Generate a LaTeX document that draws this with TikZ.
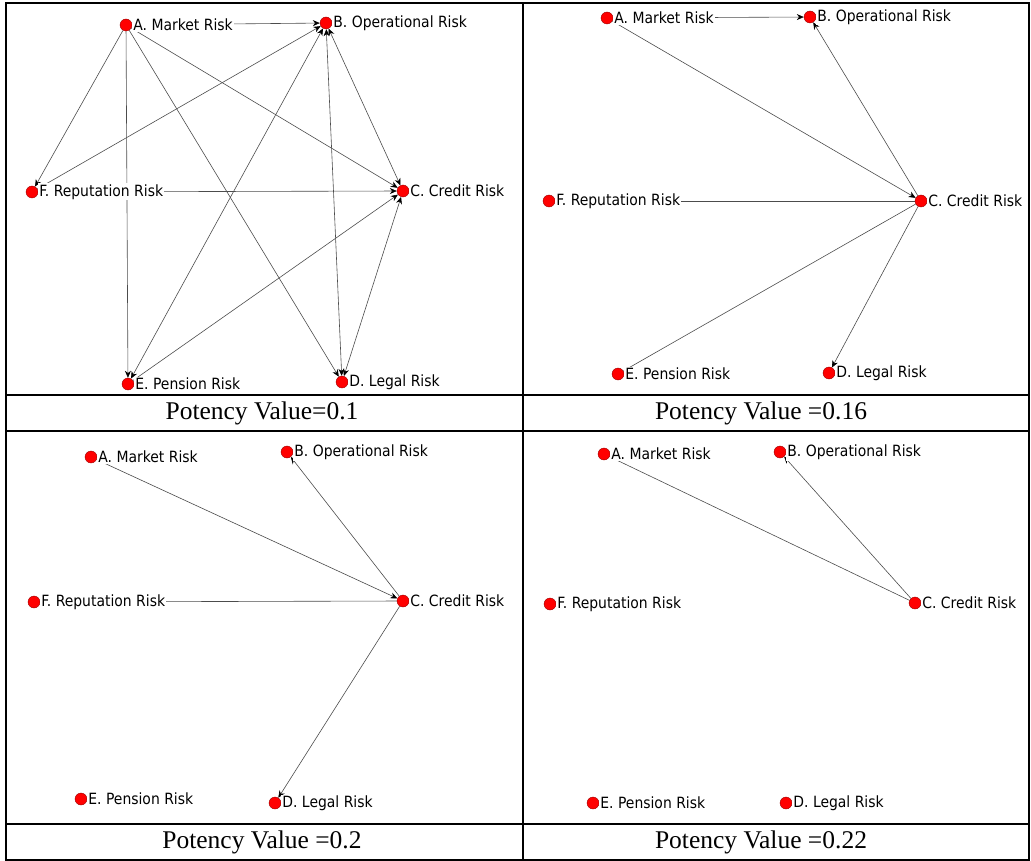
\documentclass[tikz,border=0pt]{standalone}
\usepackage{fontspec}
\setmainfont{Liberation Serif}
\newfontfamily\netfont{DejaVu Sans Condensed}
\usetikzlibrary{arrows.meta,backgrounds}

\begin{document}
\begin{tikzpicture}[
    x=1pt, y=-1pt,
    risk/.style={circle, draw=red!60!black, fill=red, inner sep=0pt, minimum size=12pt},
    tag/.style={font=\netfont\fontsize{15.5}{15.5}\selectfont, fill=white, inner sep=1pt},
    link/.style={draw=black!70, line width=0.6pt},
    onearrow/.style={-{Stealth[length=7pt,width=6pt,color=black]}},
    twoarrow/.style={{Stealth[length=7pt,width=6pt,color=black]}-{Stealth[length=7pt,width=6pt,color=black]}},
    potency/.style={font=\fontsize{25.5}{25.5}\selectfont},
    rule/.style={line width=2pt}
]
    \useasboundingbox (0,0) rectangle (1031,861);

    % Potency 0.1
    \node[risk, label={[tag]right:A. Market Risk}] (a1) at (126,25) {};
    \node[risk, label={[tag]right:B. Operational Risk}] (b1) at (326,23) {};
    \node[risk, label={[tag]right:C. Credit Risk}] (c1) at (403,191) {};
    \node[risk, label={[tag]right:D. Legal Risk}] (d1) at (342,382) {};
    \node[risk, label={[tag]right:E. Pension Risk}] (e1) at (128,384) {};
    \node[risk, label={[tag]right:F. Reputation Risk}] (f1) at (32,192) {};

    % Potency 0.16
    \node[risk, label={[tag]right:A. Market Risk}] (a2) at (607,18) {};
    \node[risk, label={[tag]right:B. Operational Risk}] (b2) at (810,17) {};
    \node[risk, label={[tag]right:C. Credit Risk}] (c2) at (921,201) {};
    \node[risk, label={[tag]right:D. Legal Risk}] (d2) at (829,373) {};
    \node[risk, label={[tag]right:E. Pension Risk}] (e2) at (618,374) {};
    \node[risk, label={[tag]right:F. Reputation Risk}] (f2) at (549,201) {};

    % Potency 0.2
    \node[risk, label={[tag]right:A. Market Risk}] (a3) at (91,457) {};
    \node[risk, label={[tag]right:B. Operational Risk}] (b3) at (287,452) {};
    \node[risk, label={[tag]right:C. Credit Risk}] (c3) at (403,601) {};
    \node[risk, label={[tag]right:D. Legal Risk}] (d3) at (275,803) {};
    \node[risk, label={[tag]right:E. Pension Risk}] (e3) at (81,799) {};
    \node[risk, label={[tag]right:F. Reputation Risk}] (f3) at (34,602) {};

    % Potency 0.22
    \node[risk, label={[tag]right:A. Market Risk}] (a4) at (604,454) {};
    \node[risk, label={[tag]right:B. Operational Risk}] (b4) at (780,452) {};
    \node[risk, label={[tag]right:C. Credit Risk}] (c4) at (915,603) {};
    \node[risk, label={[tag]right:D. Legal Risk}] (d4) at (786,803) {};
    \node[risk, label={[tag]right:E. Pension Risk}] (e4) at (593,803) {};
    \node[risk, label={[tag]right:F. Reputation Risk}] (f4) at (550,604) {};

    % Links
    \begin{scope}[on background layer]
        \draw[link, onearrow] (a1) -- (b1);
        \draw[link, onearrow] (a1) -- (f1);
        \draw[link, onearrow] (a1) -- (e1);
        \draw[link, onearrow] (a1) -- (d1);
        \draw[link, onearrow] (a1) -- (c1);
        \draw[link, onearrow] (f1) -- (b1);
        \draw[link, twoarrow] (e1) -- (b1);
        \draw[link, twoarrow] (d1) -- (b1);
        \draw[link, twoarrow] (c1) -- (b1);
        \draw[link, onearrow] (f1) -- (c1);
        \draw[link, onearrow] (e1) -- (c1);
        \draw[link, twoarrow] (d1) -- (c1);

        \draw[link, onearrow] (a2) -- (b2);
        \draw[link, onearrow] (a2) -- (c2);
        \draw[link, onearrow] (c2) -- (b2);
        \draw[link] (f2) -- (c2);
        \draw[link, onearrow] (c2) -- (d2);
        \draw[link] (e2) -- (c2);

        \draw[link, onearrow] (a3) -- (c3);
        \draw[link, onearrow] (c3) -- (b3);
        \draw[link] (f3) -- (c3);
        \draw[link, onearrow] (c3) -- (d3);

        \draw[link] (a4) -- (c4);
        \draw[link, onearrow] (c4) -- (b4);
    \end{scope}

    % Captions
    \node[potency] (cap1) at (262,413) {Potency Value=0.1};
    \node[potency] (cap2) at (761,413) {Potency Value =0.16};
    \node[potency] (cap3) at (262,842) {Potency Value =0.2};
    \node[potency] (cap4) at (761,842) {Potency Value =0.22};

    % Table
    \draw[rule] (6,3) rectangle (1029,860);
    \draw[rule] (6,395) -- (1029,395);
    \draw[rule] (6,431) -- (1029,431);
    \draw[rule] (6,824) -- (1029,824);
    \draw[rule] (522.5,3) -- (522.5,860);
\end{tikzpicture}
\end{document}
